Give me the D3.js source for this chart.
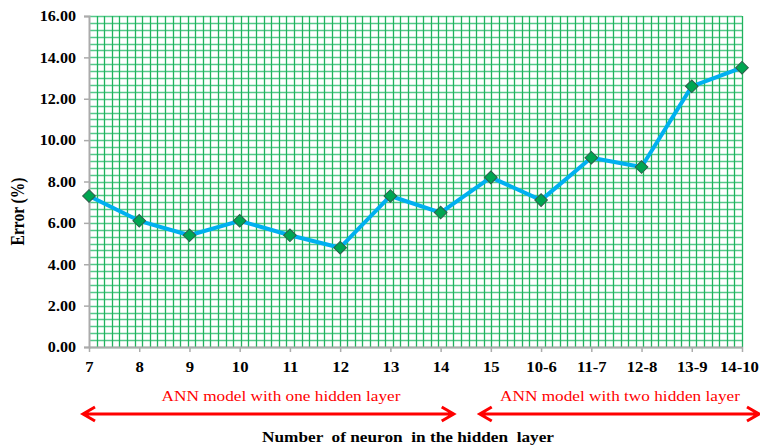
<!DOCTYPE html>
<html>
<head>
<meta charset="utf-8">
<script src="https://cdn.jsdelivr.net/npm/d3@7/dist/d3.min.js"></script>
<style>
    body { margin: 0; background: #fff; }
    text { font-family: "Liberation Serif", "Times New Roman", serif; }
</style>
</head>
<body>
<div id="graf"></div>
<script>
// 1. Podaci
const kategorije = ["7", "8", "9", "10", "11", "12", "13", "14", "15", "10-6", "11-7", "12-8", "13-9", "14-10"];
const greske = [7.3, 6.1, 5.4, 6.1, 5.4, 4.8, 7.3, 6.5, 8.2, 7.1, 9.15, 8.7, 12.6, 13.5];
const yOznake = [0, 2, 4, 6, 8, 10, 12, 14, 16];
const modeli = ["ANN model with one hidden layer", "ANN model with two hidden layer"];
const modelOd = ["7", "15"];
const modelDo = ["14", "14-10"];

// 2. Dimenzije
const dimenzije = {
    sirina: 760,
    visina: 448,
    margine: { top: 16, right: 18, bottom: 101, left: 89 },
};
dimenzije.grSirina = dimenzije.sirina - dimenzije.margine.left - dimenzije.margine.right;
dimenzije.grVisina = dimenzije.visina - dimenzije.margine.top - dimenzije.margine.bottom;
const rastezanje = 1.15; // slika je malo razvucena vodoravno

const okvir = d3.select("#graf")
    .append("svg")
    .attr("width", dimenzije.sirina)
    .attr("height", dimenzije.visina);

const granice = okvir.append("g")
    .attr("transform", `translate(${dimenzije.margine.left},${dimenzije.margine.top})`);

// 3. Skale
const xSkala = d3.scalePoint()
    .domain(kategorije)
    .range([0, dimenzije.grSirina]);

const ySkala = d3.scaleLinear()
    .domain([0, 16])
    .range([dimenzije.grVisina, 0]);

// 4. Mreza (sitni uzorak u pozadini)
const mreza = granice.append("g");
const vodoravne = d3.range(0, 16.001, 1 / 3);
mreza.selectAll(".vod")
    .data(vodoravne)
    .join("line")
    .attr("x1", 0)
    .attr("x2", dimenzije.grSirina)
    .attr("y1", d => Math.round(ySkala(d)) + 0.5)
    .attr("y2", d => Math.round(ySkala(d)) + 0.5)
    .attr("stroke", "#55c98a")
    .attr("stroke-width", 1.3);

const brojOkomitih = 86;
const okSkala = d3.scaleLinear().domain([0, brojOkomitih]).range([0, dimenzije.grSirina]);
mreza.selectAll(".ok")
    .data(d3.range(1, brojOkomitih + 1))
    .join("line")
    .attr("x1", d => Math.round(okSkala(d)) + 0.5)
    .attr("x2", d => Math.round(okSkala(d)) + 0.5)
    .attr("y1", 0)
    .attr("y2", dimenzije.grVisina)
    .attr("stroke", "#1fb35c")
    .attr("stroke-width", 1.3);

// 5. Osi
const boja_osi = "#ababab";
const yOs = granice.append("g")
    .call(d3.axisLeft(ySkala).tickValues(yOznake).tickSize(5).tickFormat(d3.format(".2f")));
yOs.select(".domain").attr("stroke", boja_osi).attr("stroke-width", 2);
yOs.selectAll(".tick line").attr("stroke", boja_osi).attr("stroke-width", 1.5);
yOs.selectAll(".tick text")
    .attr("x", null)
    .attr("dy", null)
    .attr("transform", `translate(-13,4.8) scale(${rastezanje},1)`)
    .style("font-size", "14px")
    .style("font-weight", "bold")
    .attr("fill", "#000");

const xOs = granice.append("g")
    .attr("transform", `translate(0,${dimenzije.grVisina})`)
    .call(d3.axisBottom(xSkala).tickSize(5).tickSizeOuter(0));
xOs.select(".domain").attr("stroke", boja_osi).attr("stroke-width", 2);
xOs.selectAll(".tick line").attr("stroke", boja_osi).attr("stroke-width", 1.5);
xOs.selectAll(".tick text")
    .attr("y", null)
    .attr("dy", null)
    .attr("transform", `translate(0,24.5) scale(${rastezanje},1)`)
    .style("font-size", "14.5px")
    .style("font-weight", "bold")
    .attr("fill", "#000");

// zadnja oznaka ne smije izaci iz slike
xOs.selectAll(".tick text").each(function () {
    const sir = this.getBBox().width * rastezanje;
    const x = +d3.select(this.parentNode).attr("transform").match(/translate\(([\d.]+)/)[1];
    const visak = dimenzije.margine.left + x + sir / 2 - (dimenzije.sirina - 1);
    if (visak > 0) {
        d3.select(this).attr("transform", `translate(${-visak},24.5) scale(${rastezanje},1)`);
    }
});

// 6. Linija i markeri
const linija = d3.line()
    .x((d, i) => xSkala(kategorije[i]))
    .y(d => ySkala(d));

granice.append("path")
    .datum(greske)
    .attr("d", linija)
    .attr("fill", "none")
    .attr("stroke", "#00b0f0")
    .attr("stroke-width", 4)
    .attr("stroke-linejoin", "round");

granice.selectAll(".marker")
    .data(greske)
    .join("path")
    .attr("d", d3.symbol(d3.symbolSquare, 80))
    .attr("transform", (d, i) => `translate(${xSkala(kategorije[i])},${ySkala(d)}) rotate(45)`)
    .attr("fill", "#00a651")
    .attr("stroke", "#2c5e4a")
    .attr("stroke-width", 1);

// 7. Naslovi osi
okvir.append("text")
    .attr("transform", `translate(24,${dimenzije.margine.top + dimenzije.grVisina / 2 + 30}) scale(${rastezanje},1) rotate(-90)`)
    .attr("text-anchor", "middle")
    .style("font-size", "15.5px")
    .style("font-weight", "bold")
    .text("Error (%)");

okvir.append("text")
    .attr("transform", `translate(408,442) scale(${rastezanje},1)`)
    .attr("text-anchor", "middle")
    .style("font-size", "15px")
    .style("font-weight", "bold")
    .style("white-space", "pre")
    .attr("xml:space", "preserve")
    .text("Number  of neuron  in the hidden  layer");

// 8. Strelice s oznakama modela
const crvena = "#ff0000";
const sredina = (xSkala("14") + xSkala("15")) / 2 + dimenzije.margine.left;
const strelice = modeli.map((tekst, i) => {
    const x0 = i === 0 ? xSkala(modelOd[i]) + dimenzije.margine.left - 6 : sredina + 14;
    const x1 = i === 0 ? sredina - 12 : xSkala(modelDo[i]) + dimenzije.margine.left + 17;
    return { tekst, x0, x1 };
});

const yStrelice = 414;
const grupaStrelica = okvir.selectAll(".strelica")
    .data(strelice)
    .join("g");

grupaStrelica.append("path")
    .attr("d", d => `M${d.x0},${yStrelice}H${d.x1}` +
        `M${d.x0 + 12},${yStrelice - 7}L${d.x0},${yStrelice}L${d.x0 + 12},${yStrelice + 7}` +
        `M${d.x1 - 12},${yStrelice - 7}L${d.x1},${yStrelice}L${d.x1 - 12},${yStrelice + 7}`)
    .attr("fill", "none")
    .attr("stroke", crvena)
    .attr("stroke-width", 3);

grupaStrelica.append("text")
    .attr("transform", (d, i) => `translate(${i === 0 ? 281 : 620},401) scale(${rastezanje},1)`)
    .attr("text-anchor", "middle")
    .style("font-size", "15px")
    .attr("fill", crvena)
    .text(d => d.tekst);
</script>
</body>
</html>
